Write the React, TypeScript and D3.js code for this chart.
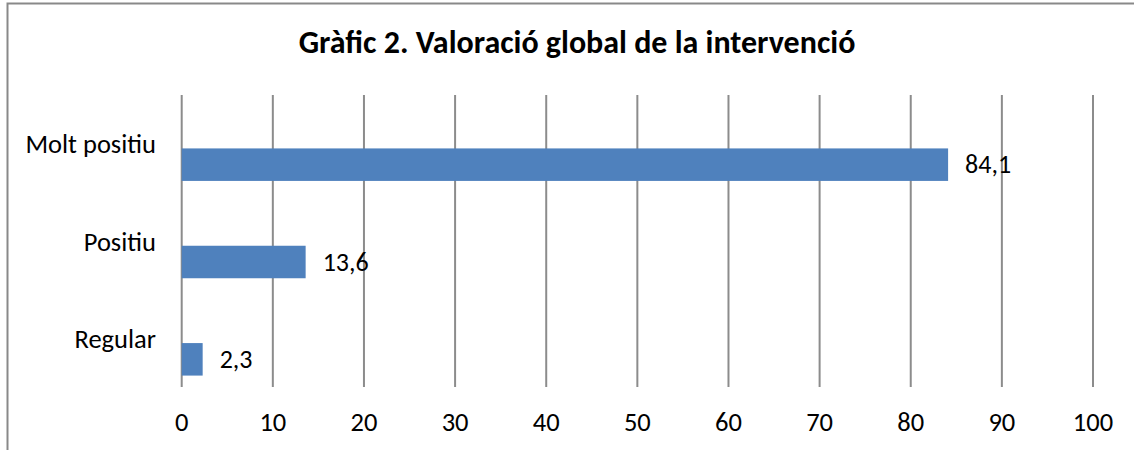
import React from "react";
import * as d3 from "d3";

const categories = ["Molt positiu", "Positiu", "Regular"];
const values = [84.1, 13.6, 2.3];
const valueLabels = ["84,1", "13,6", "2,3"];
const xTicks = [0, 10, 20, 30, 40, 50, 60, 70, 80, 90, 100];
const title = "Gràfic 2. Valoració global de la intervenció";

const W = 1134;
const H = 450;
const FONT = "Carlito, Calibri, Lato, sans-serif";

export default function App() {
  const x = d3.scaleLinear().domain([0, 100]).range([181.7, 1093]);
  const y = d3.scaleBand<string>().domain(categories).range([95, 387]);
  const bw = y.bandwidth();
  const barH = 32.5;
  const barOffset = 21; // bar centre below band centre
  return (
    <svg
      width={W}
      height={H}
      style={{ position: "absolute", left: 0, top: 0, background: "#fff" }}
      fontFamily={FONT}
    >
      <rect x={0} y={0} width={W} height={H} fill="#fff" />
      <rect x={7.5} y={3.5} width={W + 10} height={H + 10} fill="none" stroke="#898989" strokeWidth={2} />
      <text x={577} y={53} textAnchor="middle" fontSize={32} fontWeight="bold" fill="#000">
        {title}
      </text>
      {xTicks.map((t) => (
        <line key={"g" + t} x1={x(t)} x2={x(t)} y1={95} y2={387} stroke="#8c8c8c" strokeWidth={2} />
      ))}
      {categories.map((c, i) => {
        const cy = (y(c) as number) + bw / 2 + barOffset;
        return (
          <rect key={"b" + c} x={x(0)} y={cy - barH / 2} width={x(values[i]) - x(0)} height={barH} fill="#4F81BD" />
        );
      })}
      {categories.map((c, i) => {
        const cy = (y(c) as number) + bw / 2 + barOffset;
        return (
          <text key={"v" + c} x={x(values[i]) + 17} y={cy + 8.5} fontSize={26} fill="#000">
            {valueLabels[i]}
          </text>
        );
      })}
      {categories.map((c) => {
        const cy = (y(c) as number) + bw / 2;
        return (
          <text key={"c" + c} x={156} y={cy + 9.5} textAnchor="end" fontSize={26.5} fill="#000">
            {c}
          </text>
        );
      })}
      {xTicks.map((t) => (
        <text key={"t" + t} x={x(t)} y={431} textAnchor="middle" fontSize={26.5} fill="#000">
          {t}
        </text>
      ))}
    </svg>
  );
}
